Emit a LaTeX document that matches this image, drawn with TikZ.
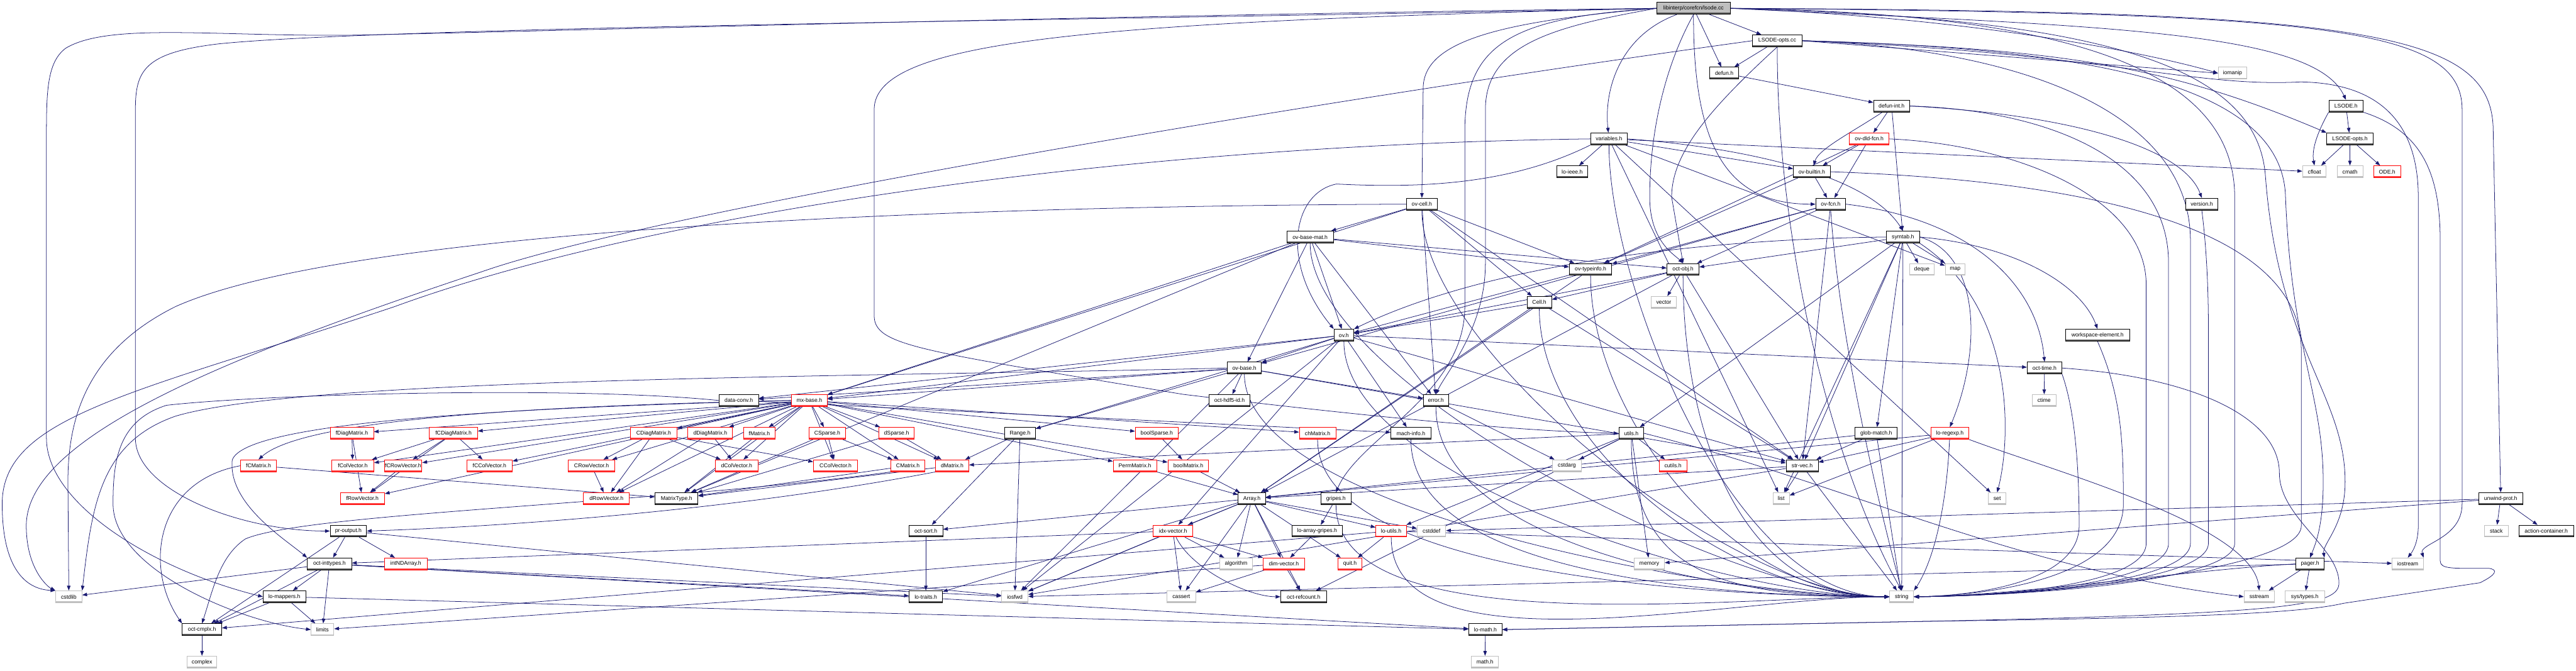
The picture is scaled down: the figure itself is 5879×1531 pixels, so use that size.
\documentclass[tikz,border=0pt]{standalone}
\usepackage{fontspec}
\setmainfont{Liberation Sans}
\usetikzlibrary{arrows.meta}
\pgfdeclarelayer{bg}
\pgfsetlayers{bg,main}
\definecolor{edgec}{HTML}{191970}
\definecolor{shd}{HTML}{555555}
\definecolor{grb}{HTML}{BFBFBF}
\definecolor{rootf}{HTML}{BFBFBF}
\tikzset{
  nb/.style={rectangle, minimum height=27pt, inner sep=0pt, fill=white, line width=1.3pt,
    font=\fontsize{12.5}{15}\selectfont},
  bk/.style={nb, draw=black, path picture={\fill[shd] ([yshift=3.5pt]path picture bounding box.south west) rectangle (path picture bounding box.south east);}},
  rd/.style={nb, draw=red, path picture={\fill[red!75!white] ([yshift=3pt]path picture bounding box.south west) rectangle (path picture bounding box.south east);}},
  gr/.style={nb, draw=grb, path picture={\fill[grb] ([yshift=3pt]path picture bounding box.south west) rectangle (path picture bounding box.south east);}},
  rt/.style={bk, fill=rootf},
  e/.style={draw=edgec, line width=1.1pt, -{Triangle[length=11pt,width=8pt]}},
}
\begin{document}
\begin{tikzpicture}[x=1pt,y=1pt]
\useasboundingbox (0,0) rectangle (5879,-1531);
% row 0-6
\node[rt,minimum width=167] (root) at (3865,-19) {libinterp/corefcn/lsode.cc};
\node[bk,minimum width=113] (lsoc) at (4056,-93) {LSODE-opts.cc};
\node[bk,minimum width=66] (defun) at (3935,-167) {defun.h};
\node[gr,minimum width=65] (iomanip) at (5095,-167) {iomanip};
\node[bk,minimum width=82] (defunint) at (4317,-242) {defun-int.h};
\node[bk,minimum width=78] (LSODEh) at (5354,-242) {LSODE.h};
\node[bk,minimum width=84] (variables) at (3672,-317) {variables.h};
\node[rd,minimum width=91] (ovdld) at (4266,-317) {ov-dld-fcn.h};
\node[bk,minimum width=106] (LSODEoh) at (5363,-317) {LSODE-opts.h};
\node[bk,minimum width=70] (loieee) at (3588,-392) {lo-ieee.h};
\node[bk,minimum width=84] (ovbuiltin) at (4135,-392) {ov-builtin.h};
\node[gr,minimum width=54] (cfloat) at (5282,-392) {cfloat};
\node[gr,minimum width=59] (cmath) at (5363,-392) {cmath};
\node[rd,minimum width=61] (ODEh) at (5448,-392) {ODE.h};
\node[bk,minimum width=70] (ovcell) at (3245,-466) {ov-cell.h};
\node[bk,minimum width=68] (ovfcn) at (4178,-466) {ov-fcn.h};
\node[bk,minimum width=74] (versionh) at (5025,-466) {version.h};
% row 7-12
\node[bk,minimum width=106] (ovbasemat) at (2990,-541) {ov-base-mat.h};
\node[bk,minimum width=75] (symtab) at (4343,-541) {symtab.h};
\node[bk,minimum width=97] (ovtypeinfo) at (3630,-615) {ov-typeinfo.h};
\node[bk,minimum width=73] (octobj) at (3841,-615) {oct-obj.h};
\node[gr,minimum width=57] (deque) at (4386,-615) {deque};
\node[gr,minimum width=45] (map) at (4462,-615) {map};
\node[bk,minimum width=56] (Cellh) at (3513,-690) {Cell.h};
\node[gr,minimum width=58] (vector) at (3797,-690) {vector};
\node[bk,minimum width=45] (ovh) at (3067,-765) {ov.h};
\node[bk,minimum width=147] (wselem) at (4787,-765) {workspace-element.h};
\node[bk,minimum width=77] (ovbase) at (2840,-840) {ov-base.h};
\node[bk,minimum width=79] (octtime) at (4666,-840) {oct-time.h};
\node[bk,minimum width=90] (dataconv) at (1686,-914) {data-conv.h};
\node[rd,minimum width=82] (mxbase) at (1847,-914) {mx-base.h};
\node[bk,minimum width=94] (octhdf) at (2806,-914) {oct-hdf5-id.h};
\node[bk,minimum width=58] (errorh) at (3277,-914) {error.h};
\node[gr,minimum width=54] (ctime) at (4665,-914) {ctime};
% row 13
\node[rd,minimum width=99] (fDiag) at (803,-989) {fDiagMatrix.h};
\node[rd,minimum width=110] (fCDiag) at (1035,-989) {fCDiagMatrix.h};
\node[rd,minimum width=106] (CDiag) at (1492,-989) {CDiagMatrix.h};
\node[rd,minimum width=102] (dDiag) at (1621,-989) {dDiagMatrix.h};
\node[rd,minimum width=73] (fMatrix) at (1733,-989) {fMatrix.h};
\node[rd,minimum width=83] (CSparse) at (1888,-989) {CSparse.h};
\node[rd,minimum width=80] (dSparse) at (2046,-989) {dSparse.h};
\node[bk,minimum width=70] (Range) at (2328,-989) {Range.h};
\node[rd,minimum width=98] (boolSparse) at (2640,-989) {boolSparse.h};
\node[rd,minimum width=83] (chMatrix) at (3007,-989) {chMatrix.h};
\node[bk,minimum width=91] (machinfo) at (3220,-989) {mach-info.h};
\node[bk,minimum width=57] (utils) at (3723,-989) {utils.h};
\node[bk,minimum width=96] (globmatch) at (4282,-989) {glob-match.h};
\node[rd,minimum width=87] (loregexp) at (4450,-989) {lo-regexp.h};
% row 14
\node[rd,minimum width=82] (fCMatrix) at (590,-1063) {fCMatrix.h};
\node[rd,minimum width=96] (fColVec) at (805,-1063) {fColVector.h};
\node[rd,minimum width=86] (fCRowVec) at (920,-1063) {fCRowVector.h};
\node[rd,minimum width=104] (fCColVec) at (1117,-1063) {fCColVector.h};
\node[rd,minimum width=107] (CRowVec) at (1350,-1063) {CRowVector.h};
\node[rd,minimum width=98] (dColVec) at (1681,-1063) {dColVector.h};
\node[rd,minimum width=101] (CColVec) at (1907,-1063) {CColVector.h};
\node[rd,minimum width=78] (CMatrix) at (2072,-1063) {CMatrix.h};
\node[rd,minimum width=76] (dMatrix) at (2173,-1063) {dMatrix.h};
\node[rd,minimum width=99] (PermMatrix) at (2590,-1063) {PermMatrix.h};
\node[rd,minimum width=93] (boolMatrix) at (2712,-1063) {boolMatrix.h};
\node[gr,minimum width=65] (cstdarg) at (3576,-1063) {cstdarg};
\node[rd,minimum width=63] (cutils) at (3818,-1063) {cutils.h};
\node[bk,minimum width=73] (strvec) at (4113,-1063) {str-vec.h};
% row 15
\node[rd,minimum width=101] (fRowVec) at (827,-1138) {fRowVector.h};
\node[rd,minimum width=105] (dRowVec) at (1384,-1138) {dRowVector.h};
\node[bk,minimum width=98] (MatrixType) at (1544,-1138) {MatrixType.h};
\node[bk,minimum width=62] (Array) at (2857,-1138) {Array.h};
\node[bk,minimum width=68] (gripes) at (3049,-1138) {gripes.h};
\node[gr,minimum width=37] (list) at (4065,-1138) {list};
\node[gr,minimum width=40] (set) at (4558,-1138) {set};
\node[bk,minimum width=100] (unwind) at (5707,-1138) {unwind-prot.h};
% row 16
\node[bk,minimum width=83] (proutput) at (795,-1212) {pr-output.h};
\node[bk,minimum width=77] (octsort) at (2113,-1212) {oct-sort.h};
\node[rd,minimum width=90] (idxvec) at (2677,-1212) {idx-vector.h};
\node[bk,minimum width=114] (loag) at (3006,-1212) {lo-array-gripes.h};
\node[rd,minimum width=70] (loutils) at (3175,-1212) {lo-utils.h};
\node[gr,minimum width=65] (cstddef) at (3267,-1212) {cstddef};
\node[gr,minimum width=55] (stack) at (5697,-1212) {stack};
\node[bk,minimum width=125] (actioncont) at (5811,-1212) {action-container.h};
% row 17
\node[bk,minimum width=101] (octint) at (752,-1287) {oct-inttypes.h};
\node[rd,minimum width=98] (intND) at (926,-1287) {intNDArray.h};
\node[gr,minimum width=74] (algorithm) at (2821,-1287) {algorithm};
\node[rd,minimum width=95] (dimvec) at (2930,-1287) {dim-vector.h};
\node[rd,minimum width=54] (quit) at (3081,-1287) {quit.h};
\node[gr,minimum width=69] (memory) at (3764,-1287) {memory};
\node[bk,minimum width=64] (pager) at (5272,-1287) {pager.h};
\node[gr,minimum width=71] (iostream) at (5495,-1287) {iostream};
% row 18
\node[gr,minimum width=60] (cstdlib) at (157,-1362) {cstdlib};
\node[bk,minimum width=97] (lomappers) at (649,-1362) {lo-mappers.h};
\node[bk,minimum width=76] (lotraits) at (2113,-1362) {lo-traits.h};
\node[gr,minimum width=60] (iosfwd) at (2316,-1362) {iosfwd};
\node[gr,minimum width=65] (cassert) at (2696,-1362) {cassert};
\node[bk,minimum width=104] (octrefcount) at (2975,-1362) {oct-refcount.h};
\node[gr,minimum width=55] (string) at (4340,-1362) {string};
\node[gr,minimum width=69] (sstream) at (5156,-1362) {sstream};
\node[gr,minimum width=91] (systypes) at (5260,-1362) {sys/types.h};
% row 19-20
\node[bk,minimum width=90] (octcmplx) at (461,-1437) {oct-cmplx.h};
\node[gr,minimum width=52] (limits) at (736,-1437) {limits};
\node[bk,minimum width=76] (lomath) at (3390,-1437) {lo-math.h};
\node[gr,minimum width=68] (complex) at (461,-1511) {complex};
\node[gr,minimum width=62] (mathh) at (3389,-1511) {math.h};

\begin{pgfonlayer}{bg}
\foreach \a/\b in {root/lsoc, root/defun, lsoc/defun, defun/defunint, defunint/ovdld, ovdld/ovbuiltin, ovdld/ovfcn, ovbuiltin/ovfcn, variables/loieee, variables/ovbuiltin, variables/cfloat, variables/map, variables/set, variables/list, LSODEh/LSODEoh, LSODEoh/cfloat, LSODEoh/cmath, LSODEoh/ODEh, defunint/symtab, ovcell/ovbasemat, ovbasemat/ovtypeinfo, ovbasemat/octobj, ovcell/ovtypeinfo, ovbuiltin/ovtypeinfo, ovdld/ovtypeinfo, ovfcn/ovtypeinfo, ovfcn/octobj, symtab/octobj, symtab/deque, symtab/map, octobj/vector, octobj/Cellh, ovcell/Cellh, ovtypeinfo/ovh, octobj/ovh, Cellh/ovh, ovbasemat/ovh, ovh/ovbase, ovbasemat/ovbase, ovfcn/ovbase, ovbase/octhdf, ovbase/dataconv, ovh/dataconv, ovbase/mxbase, ovbasemat/mxbase, ovcell/mxbase, ovh/mxbase, ovbase/Range, ovh/Range, ovbase/errorh, ovcell/errorh, ovbasemat/errorh, ovh/octtime, octtime/ctime, mxbase/fDiag, mxbase/fCDiag, mxbase/CDiag, mxbase/dDiag, mxbase/fMatrix, mxbase/CSparse, mxbase/dSparse, mxbase/boolSparse, mxbase/chMatrix, dataconv/machinfo, ovh/machinfo, symtab/utils, symtab/globmatch, errorh/cstdarg, utils/cstdarg, utils/cutils, fDiag/fColVec, fCDiag/fColVec, mxbase/fColVec, fCDiag/fCRowVec, mxbase/fCRowVec, fCDiag/fCColVec, mxbase/fCColVec, CDiag/CRowVec, mxbase/CRowVec, fDiag/fRowVec, fCDiag/fRowVec, fCRowVec/fRowVec, mxbase/fRowVec, dDiag/dRowVec, CRowVec/dRowVec, mxbase/dRowVec, CDiag/dRowVec, dDiag/dColVec, CDiag/dColVec, mxbase/dColVec, CDiag/CColVec, mxbase/CColVec, CSparse/CColVec, mxbase/CMatrix, CSparse/CMatrix, mxbase/dMatrix, dSparse/dMatrix, Range/dMatrix, utils/dMatrix, mxbase/PermMatrix, mxbase/boolMatrix, boolSparse/boolMatrix, fCMatrix/MatrixType, fMatrix/MatrixType, CSparse/MatrixType, dSparse/MatrixType, CMatrix/MatrixType, dMatrix/MatrixType, mxbase/MatrixType, ovbasemat/MatrixType, PermMatrix/Array, boolMatrix/Array, Cellh/Array, octobj/Array, strvec/Array, globmatch/Array, loregexp/Array, ovtypeinfo/Array, Range/octsort, Array/octsort, ovh/idxvec, Array/idxvec, idxvec/algorithm, Array/algorithm, idxvec/dimvec, Array/dimvec, octsort/lotraits, Array/lotraits, octint/lotraits, Range/iosfwd, idxvec/iosfwd, Array/iosfwd, ovbase/iosfwd, ovh/iosfwd, strvec/iosfwd, proutput/iosfwd, octint/iosfwd, pager/iosfwd, Array/cassert, idxvec/cassert, dimvec/cassert, Array/octrefcount, dimvec/octrefcount, utils/octrefcount, utils/loutils, Array/loutils, Array/cstddef, unwind/cstddef, Array/quit, loutils/quit, unwind/memory, utils/memory, unwind/stack, unwind/actioncont, gripes/loag, loag/dimvec, strvec/list, symtab/list, loregexp/list, loregexp/strvec, globmatch/strvec, symtab/strvec, ovfcn/strvec, octobj/strvec, Cellh/strvec, ovbase/strvec, ovh/strvec, ovcell/strvec, pager/sstream, pager/systypes, proutput/octint, proutput/intND, proutput/octcmplx, lomappers/octcmplx, octint/octcmplx, loutils/octcmplx, octint/cstdlib, octint/lomappers, lomappers/limits, octint/limits, dimvec/limits, octint/lomath, lomappers/lomath, octcmplx/complex, lomath/mathh, loutils/iostream, idxvec/octint, symtab/string, strvec/string, globmatch/string}
  {\draw[e] (\a) -- (\b);}

% string fan from the left
\foreach \a in {ovcell, ovbasemat, ovtypeinfo, octobj, Cellh, ovh, ovbase, errorh, machinfo, chMatrix, gripes, loutils, utils, variables}
  {\draw[e] (\a) .. controls +(0,-330) and (3950,-1362) .. (string.west);}

% root curves
\draw[e] (root) .. controls (3700,-80) and (3660,-200) .. (variables);
\draw[e] (root.east) .. controls (4500,-40) and (4900,-120) .. (iomanip.west);
\draw[e] (root.east) .. controls (4800,-60) and (5280,-70) .. (LSODEh.north);
\draw[e] (root.west) .. controls (3400,-50) and (3250,-100) .. (3248,-200) -- (ovcell.north);
\draw[e] (root) .. controls (3864,-350) and (3950,-466) .. (ovfcn.west);
\draw[e] (root.west) .. controls (3550,-60) and (3390,-100) .. (3390,-250) -- (3390,-600) .. controls (3390,-750) and (3300,-850) .. (errorh.north);
\draw[e] (root.west) .. controls (3450,-40) and (3343,-100) .. (3343,-300) -- (3343,-700) .. controls (3343,-900) and (3100,-1000) .. (gripes.north);
\draw[e] (root.south) .. controls (3800,-150) and (3765,-300) .. (3765,-450) .. controls (3765,-550) and (3820,-580) .. (octobj.north);
\draw[e] (root.west) .. controls (2600,-45) and (900,-60) .. (500,-100) .. controls (330,-120) and (309,-160) .. (309,-250) -- (309,-1000) .. controls (309,-1120) and (550,-1212) .. (proutput.west);
\draw[e] (root.west) .. controls (2500,-35) and (1300,-70) .. (820,-80) .. controls (500,-85) and (250,-50) .. (150,-110) .. controls (110,-140) and (106,-200) .. (106,-300) -- (106,-1000) .. controls (106,-1150) and (350,-1300) .. (lomappers.west);
\draw[e] (root.west) .. controls (2500,-50) and (1995,-90) .. (1995,-250) -- (1995,-720) .. controls (1995,-790) and (2100,-800) .. (2700,-900) .. controls (3200,-960) and (3500,-985) .. (utils.west);
\draw[e] (root.east) .. controls (4700,-30) and (5100,-150) .. (5100,-450) -- (5100,-1240) .. controls (5100,-1330) and (4600,-1360) .. (string.east);
\draw[e] (root.east) .. controls (4800,-40) and (5150,-150) .. (5170,-400) .. controls (5200,-800) and (5352,-900) .. (5352,-1100) .. controls (5352,-1200) and (5300,-1240) .. (pager.north east);
\draw[e] (root.east) .. controls (5300,-30) and (5619,-60) .. (5619,-250) -- (5619,-1150) .. controls (5619,-1230) and (5520,-1240) .. (iostream.north east);
\draw[e] (root.east) .. controls (5400,-25) and (5690,-70) .. (5690,-300) -- (unwind.north);

% LSODE-opts.cc curves
\draw[e] (lsoc.east) -- (iomanip.west);
\draw[e] (lsoc.east) .. controls (4700,-110) and (4950,-150) .. (LSODEoh.north west);
\draw[e] (lsoc.south) .. controls (3900,-250) and (3815,-350) .. (3815,-450) -- (octobj.north);
\draw[e] (lsoc.south) .. controls (4056,-600) and (4200,-1100) .. (string.north);
\draw[e] (lsoc.east) .. controls (4600,-110) and (4999,-250) .. (4999,-550) -- (4999,-1240) .. controls (4999,-1330) and (4600,-1360) .. (string.east);
\draw[e] (lsoc.east) .. controls (4800,-110) and (5210,-200) .. (5216,-450) .. controls (5230,-800) and (5302,-900) .. (5302,-1100) .. controls (5302,-1200) and (5285,-1240) .. (pager.north);
\draw[e] (lsoc.east) .. controls (4800,-120) and (5000,-200) .. (5250,-187) .. controls (5450,-190) and (5519,-300) .. (5519,-450) -- (5519,-1200) .. controls (5519,-1240) and (5505,-1260) .. (iostream.north);
\draw[e] (lsoc.west) .. controls (3000,-230) and (1500,-480) .. (1100,-620) .. controls (500,-820) and (60,-1000) .. (60,-1200) .. controls (60,-1300) and (110,-1340) .. (cstdlib.north west);

% upper right
\draw[e] (defunint) .. controls (4230,-300) and (4150,-340) .. (ovbuiltin);
\draw[e] (defunint.east) .. controls (4700,-260) and (4980,-330) .. (versionh.north);
\draw[e] (defunint.east) .. controls (4650,-250) and (4949,-350) .. (4949,-600) -- (4949,-1240) .. controls (4949,-1330) and (4600,-1360) .. (string.east);
\draw[e] (ovdld.east) .. controls (4600,-330) and (4898,-450) .. (4898,-650) -- (4898,-1240) .. controls (4898,-1330) and (4600,-1360) .. (string.east);
\draw[e] (versionh.south) .. controls (5035,-560) and (5040,-650) .. (5040,-750) -- (5040,-1240) .. controls (5040,-1330) and (4600,-1360) .. (string.east);
\draw[e] (ovbuiltin.east) .. controls (4700,-410) and (5252,-500) .. (5252,-800) -- (5252,-1200) .. controls (5252,-1300) and (4700,-1355) .. (string.east);
\draw[e] (ovfcn.south) .. controls (4200,-800) and (4300,-1200) .. (string.north);
\draw[e] (ovfcn.east) .. controls (4500,-500) and (4650,-650) .. (octtime.north);
\draw[e] (variables.east) .. controls (3900,-330) and (4250,-380) .. (symtab.north);
\draw[e] (variables.south west) .. controls (3450,-420) and (3250,-430) .. (3050,-420) .. controls (2950,-440) and (2920,-600) .. (ovh.north west);
\draw[e] (variables.west) .. controls (2600,-330) and (1500,-480) .. (900,-700) .. controls (300,-900) and (5,-950) .. (5,-1150) .. controls (5,-1300) and (60,-1345) .. (cstdlib.north west);
\draw[e] (LSODEh.south west) .. controls (5290,-300) and (5275,-340) .. (cfloat.north);
\draw[e] (LSODEh.south east) .. controls (5530,-300) and (5569,-400) .. (5569,-550) -- (5569,-1280) .. controls (5569,-1300) and (5600,-1297) .. (5680,-1297) .. controls (5700,-1300) and (5700,-1310) .. (5660,-1330) -- (5348,-1377) .. controls (5250,-1400) and (5000,-1410) .. (4400,-1418) -- (lomath.east);
\draw[e] (octtime.east) .. controls (5000,-860) and (5202,-950) .. (5202,-1080) .. controls (5202,-1180) and (5338,-1250) .. (5338,-1330) .. controls (5338,-1380) and (5250,-1400) .. (4400,-1418) -- (lomath.east);
\draw[e] (symtab.west) .. controls (3900,-545) and (3400,-600) .. (ovh.north east);
\draw[e] (symtab.east) .. controls (4600,-560) and (4750,-650) .. (wselem.north);
\draw[e] (symtab.east) .. controls (4520,-580) and (4523,-800) .. (loregexp.north);
\draw[e] (symtab.south east) .. controls (4600,-700) and (4590,-1000) .. (set.north);
\draw[e] (wselem.south) .. controls (4840,-900) and (4846,-1000) .. (4846,-1150) .. controls (4846,-1330) and (4500,-1360) .. (string.east);
\draw[e] (octtime.south east) .. controls (4740,-950) and (4745,-1100) .. (4745,-1200) .. controls (4745,-1330) and (4500,-1360) .. (string.east);
\draw[e] (pager.west) .. controls (5000,-1300) and (4600,-1360) .. (string.east);
\draw[e] (loregexp.south east) .. controls (4700,-1080) and (5140,-1200) .. (sstream.north);
\draw[e] (utils.east) .. controls (4200,-1100) and (4600,-1300) .. (sstream.west);
\draw[e] (loregexp) .. controls (4440,-1200) and (4400,-1300) .. (string.north east);

% lower left curves
\draw[e] (ovcell.west) .. controls (2200,-470) and (800,-520) .. (400,-700) .. controls (200,-800) and (155,-950) .. (155,-1100) -- (cstdlib.north);
\draw[e] (ovbase.west) .. controls (2000,-860) and (700,-860) .. (400,-950) .. controls (230,-1010) and (210,-1150) .. (cstdlib.north east);
\draw[e] (dataconv.west) .. controls (1300,-880) and (600,-900) .. (380,-925) .. controls (270,-960) and (258,-1050) .. (258,-1150) .. controls (258,-1300) and (550,-1420) .. (limits.west);
\draw[e] (mxbase.west) .. controls (1200,-930) and (560,-960) .. (530,-1050) .. controls (520,-1150) and (650,-1230) .. (octint.north west);
\draw[e] (mxbase.west) .. controls (1300,-925) and (700,-950) .. (fCMatrix.north);
\draw[e] (fCMatrix.west) .. controls (350,-1100) and (330,-1300) .. (octcmplx.north west);
\draw[e] (CMatrix.south west) .. controls (1500,-1150) and (700,-1170) .. (560,-1230) .. controls (500,-1270) and (485,-1350) .. (octcmplx.north);
\draw[e] (dMatrix.south west) .. controls (1700,-1160) and (1200,-1200) .. (proutput.east);
\draw[e] (idxvec) .. controls (2720,-1300) and (2850,-1362) .. (octrefcount.west);
\end{pgfonlayer}
\end{tikzpicture}
\end{document}
